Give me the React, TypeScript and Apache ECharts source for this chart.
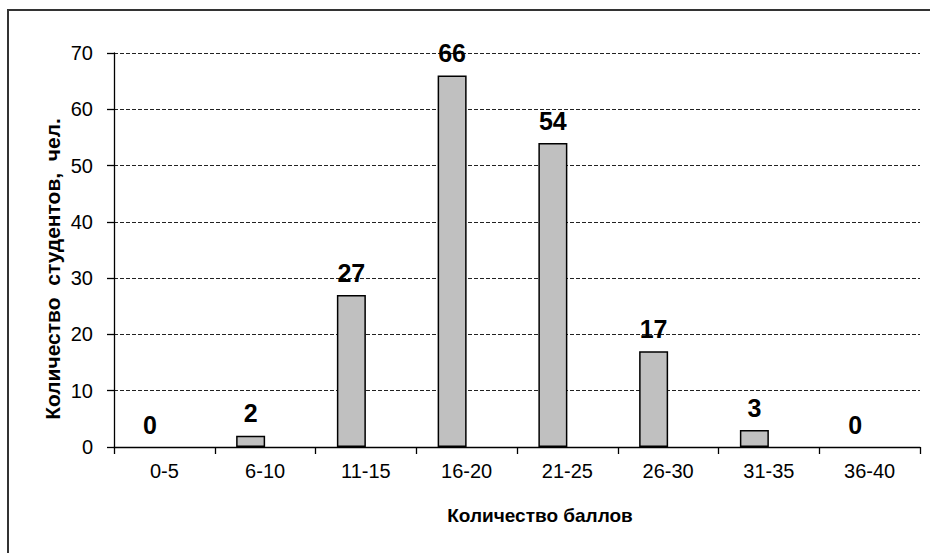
import React, { useEffect, useRef } from "react";
import * as echarts from "echarts";

const categories = ["0-5", "6-10", "11-15", "16-20", "21-25", "26-30", "31-35", "36-40"];
const students = [0, 2, 27, 66, 54, 17, 3, 0];
const yTicks = { min: 0, max: 70, interval: 10 };
const yTitle = "Количество  студентов,  чел.";
const xTitle = "Количество баллов";

const FONT = "'Liberation Sans', Arial, sans-serif";

export default function App() {
  const ref = useRef<HTMLDivElement>(null);
  useEffect(() => {
    document.body.style.margin = "0";
    const chart = echarts.init(ref.current!, null, { renderer: "svg" });
    chart.setOption({
      animation: false,
      backgroundColor: "#ffffff",
      grid: { left: 114, right: 10, top: 53, bottom: 106 },
      xAxis: {
        type: "category",
        data: categories,
        boundaryGap: true,
        z: 5,
        axisLine: { lineStyle: { color: "#000", width: 1.3 } },
        axisTick: { show: true, length: 7, alignWithLabel: false, lineStyle: { color: "#000", width: 1.3 } },
        axisLabel: { color: "#000", fontSize: 20, fontFamily: FONT, margin: 14 },
        splitLine: { show: false },
      },
      yAxis: {
        type: "value",
        min: yTicks.min,
        max: yTicks.max,
        interval: yTicks.interval,
        axisLine: { show: true, lineStyle: { color: "#000", width: 1.3 } },
        axisTick: { show: true, length: 7, lineStyle: { color: "#000", width: 1.3 } },
        axisLabel: { color: "#000", fontSize: 20, fontFamily: FONT, margin: 21 },
        splitLine: { show: true, lineStyle: { color: "#222", width: 1, type: [4, 2] } },
      },
      series: [
        {
          type: "bar",
          data: students.map((v) => (v === 0 ? { value: v, itemStyle: { borderWidth: 0 } } : v)),
          barWidth: 29,
          barGap: "0%",
          itemStyle: { color: "#c0c0c0", borderColor: "#000", borderWidth: 1.5 },
          label: {
            show: true,
            position: "top",
            distance: 10,
            color: "#000",
            fontSize: 25,
            fontWeight: "bold",
            fontFamily: FONT,
          },
        },
        {
          type: "bar",
          data: [],
          barWidth: 29,
          barGap: "0%",
        },
      ],
      graphic: [
        {
          type: "rect",
          shape: { x: 8, y: 10, width: 960, height: 600 },
          style: { fill: "none", stroke: "#333", lineWidth: 2 },
          silent: true,
        },
        {
          type: "text",
          x: 52,
          y: 269,
          rotation: Math.PI / 2,
          style: {
            text: yTitle,
            fill: "#000",
            font: `bold 21px ${FONT}`,
            align: "center",
            verticalAlign: "middle",
          },
        },
        {
          type: "text",
          x: 540,
          y: 515,
          style: {
            text: xTitle,
            fill: "#000",
            font: `bold 19px ${FONT}`,
            align: "center",
            verticalAlign: "middle",
          },
        },
      ],
    });
    return () => chart.dispose();
  }, []);
  return <div ref={ref} style={{ width: 930, height: 553 }} />;
}
